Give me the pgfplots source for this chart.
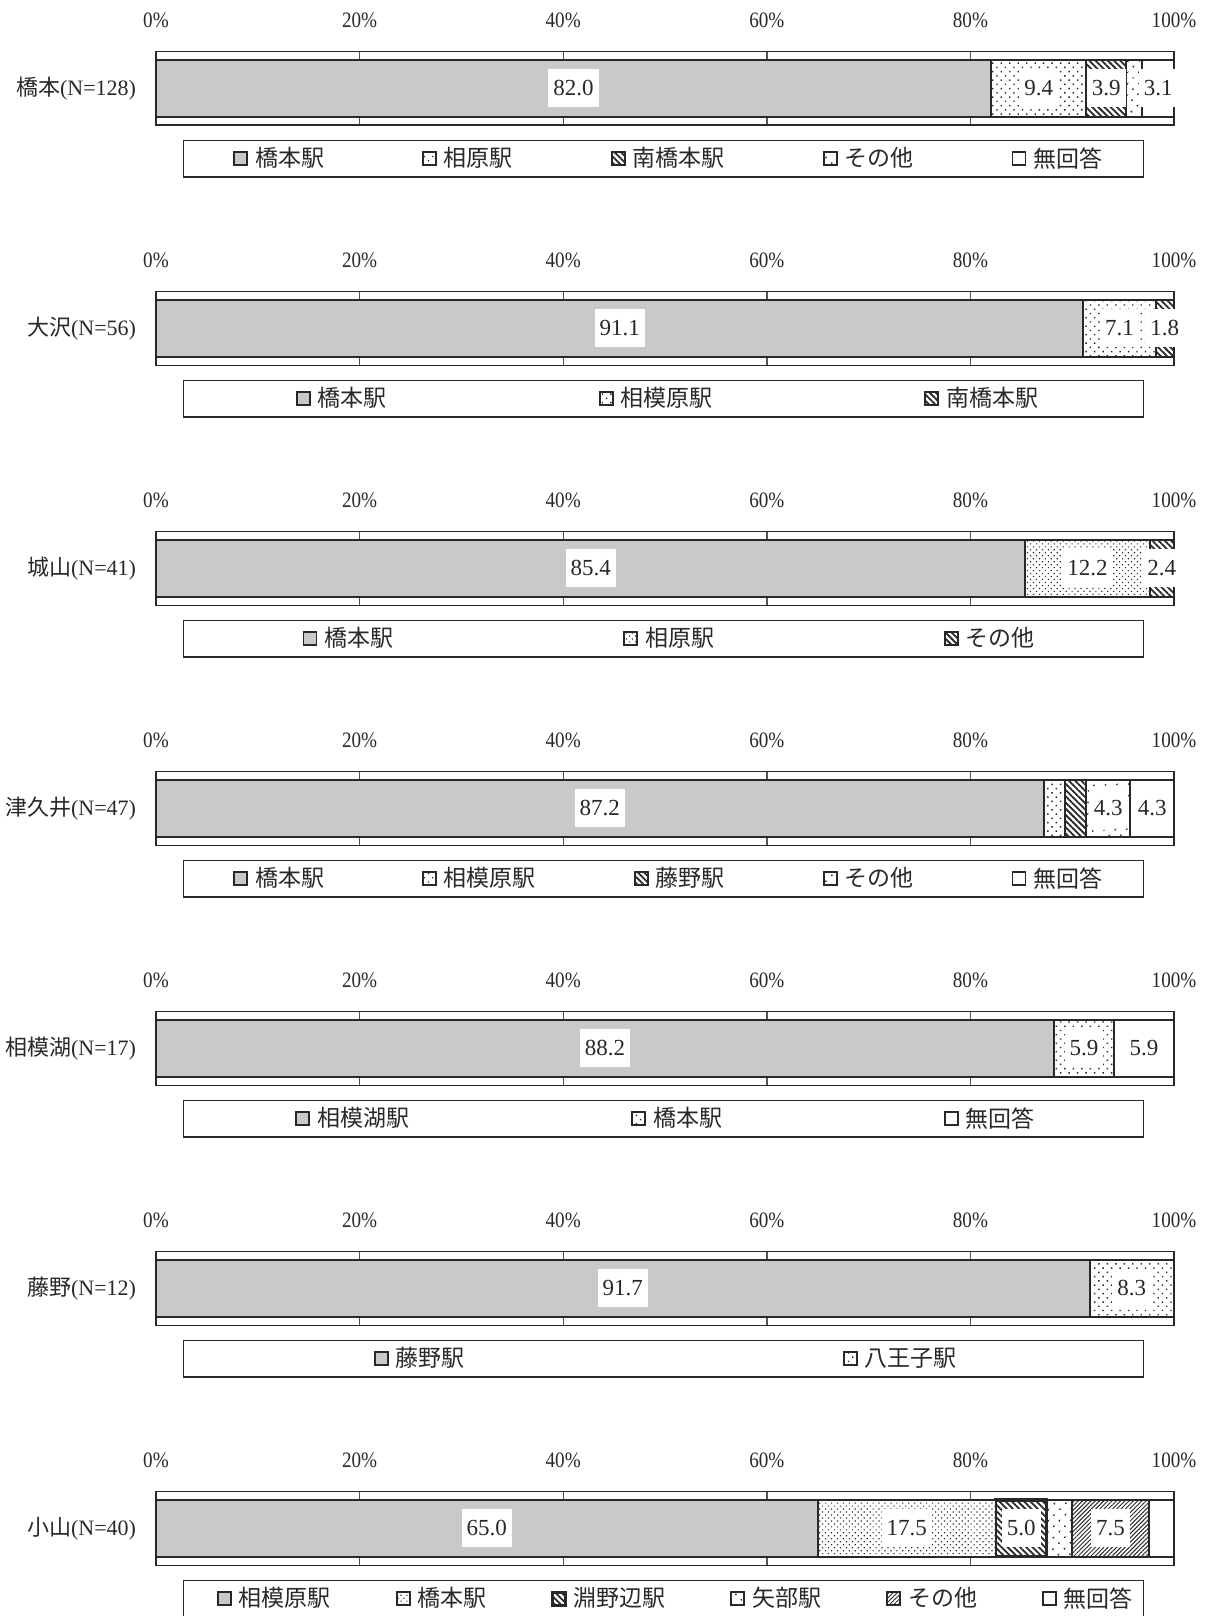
\documentclass[border=0pt]{standalone}
\usepackage{pgfplots}
\pgfplotsset{compat=1.18}
\usetikzlibrary{patterns.meta}
\usepackage{fontspec}
\setmainfont{Liberation Serif}
\newfontfamily\cjk{Noto Sans CJK JP}
\newfontfamily\tickfam[FakeStretch=0.87]{Liberation Serif}
\newcommand\tickfont{\tickfam\fontsize{11}{13}\selectfont}
\newcommand\catfont{\fontsize{11}{13}\selectfont}
\newcommand\valfont{\fontsize{11.5}{13}\selectfont}
\newcommand\legfont{\cjk\fontsize{11.5}{13}\selectfont}
\definecolor{barGray}{RGB}{200,201,203}
\definecolor{ink}{RGB}{40,40,40}

\tikzset{
  sGray/.style={fill=barGray, draw=ink, line width=1pt},
  sWhite/.style={fill=white, draw=ink, line width=1pt},
  sDots/.style={draw=ink, line width=1pt, preaction={fill=white}, pattern={Dots[distance=3pt, radius=0.5pt, angle=45]}, pattern color=ink},
  sDotsD/.style={draw=ink, line width=1pt, preaction={fill=white}, pattern={Dots[distance=2.1pt, radius=0.42pt, angle=45]}, pattern color=ink},
  sDotsS/.style={draw=ink, line width=1pt, preaction={fill=white}, pattern={Dots[distance=4pt, radius=0.55pt, angle=45]}, pattern color=ink},
  sNW/.style={draw=ink, line width=1pt, preaction={fill=white}, pattern={Lines[angle=-45, distance=2.2pt, line width=0.9pt]}, pattern color=ink},
  sNWb/.style={draw=ink, line width=1.6pt, preaction={fill=white}, pattern={Lines[angle=-45, distance=2.2pt, line width=0.9pt]}, pattern color=ink},
  sNE/.style={draw=ink, line width=1pt, preaction={fill=white}, pattern={Lines[angle=45, distance=1.5pt, line width=0.5pt]}, pattern color=ink},
}

\pgfplotsset{
  geom/.style={at={#1}, anchor=north west, width=509pt, height=36.9pt, scale only axis,
    xmin=0, xmax=100, ymin=-1, ymax=1},
  panelA/.style={
    xbar stacked, bar width=28.35pt,
    xtick={0,20,40,60,80,100}, xticklabels={0\%,20\%,40\%,60\%,80\%,100\%},
    xticklabel pos=upper,
    xticklabel style={font=\tickfont, text=ink, anchor=center, yshift=15.75pt},
    ytick={0},
    yticklabel style={font=\catfont, text=ink, anchor=east, inner sep=0pt, xshift=-9.8pt},
    major tick length=0pt,
    xmajorgrids, grid style={ink!80, line width=0.7pt},
    axis line style={ink, line width=0.8pt},
    legend cell align=left,
    legend image code/.code={\draw[##1, line width=0.9pt] (0pt,-3.25pt) rectangle (6.5pt,3.25pt);},
    legend style={draw=none, fill=none, inner sep=0pt, outer sep=0pt, column sep=3.5pt,
      font=\legfont, text=ink, anchor=west, nodes={inner sep=0pt}},
  },
  panelB/.style={hide axis, clip=false},
  vals/.style={only marks, mark=*, mark options={draw=none, fill=none},
    nodes near coords, point meta=explicit symbolic,
    every node near coord/.append style={fill=white, text=ink, font=\valfont,
      inner xsep=2.5pt, inner ysep=0pt, minimum height=19pt, anchor=center}},
}

\begin{document}
\begin{tikzpicture}
\path[use as bounding box] (0,0) rectangle (604pt,-808pt);

% ---------- Panel 1: 橋本 ----------
\begin{axis}[geom={(78pt,-25.75pt)}, panelA,
  yticklabels={{\cjk 橋本}(N=128)},
  legend columns=5,
  legend style={at={(0.0760,-0.4533)}, /tikz/every even column/.append style={column sep=49pt}}]
\addplot[sGray]  coordinates {(82.0,0)}; \addlegendentry{橋本駅}
\addplot[sDots]  coordinates {(9.4,0)};  \addlegendentry{相原駅}
\addplot[sNW]    coordinates {(3.9,0)};  \addlegendentry{南橋本駅}
\addplot[sDotsS] coordinates {(1.6,0)};  \addlegendentry{その他}
\addplot[sWhite] coordinates {(3.1,0)};  \addlegendentry{無回答}
\end{axis}
\begin{axis}[geom={(78pt,-25.75pt)}, panelB]
\addplot[vals] coordinates {(41,0)[82.0] (86.7,0)[9.4] (93.35,0)[3.9] (98.45,0)[3.1]};
\end{axis}

% ---------- Panel 2: 大沢 ----------
\begin{axis}[geom={(78pt,-145.75pt)}, panelA,
  yticklabels={{\cjk 大沢}(N=56)},
  legend columns=3,
  legend style={at={(0.1375,-0.4533)}, /tikz/every even column/.append style={column sep=106pt}}]
\addplot[sGray] coordinates {(91.1,0)}; \addlegendentry{橋本駅}
\addplot[sDots] coordinates {(7.1,0)};  \addlegendentry{相模原駅}
\addplot[sNW]   coordinates {(1.8,0)};  \addlegendentry{南橋本駅}
\end{axis}
\begin{axis}[geom={(78pt,-145.75pt)}, panelB]
\addplot[vals] coordinates {(45.55,0)[91.1] (94.65,0)[7.1] (99.1,0)[1.8]};
\end{axis}

% ---------- Panel 3: 城山 ----------
\begin{axis}[geom={(78pt,-265.75pt)}, panelA,
  yticklabels={{\cjk 城山}(N=41)},
  legend columns=3,
  legend style={at={(0.1440,-0.4533)}, /tikz/every even column/.append style={column sep=115pt}}]
\addplot[sGray]  coordinates {(85.4,0)}; \addlegendentry{橋本駅}
\addplot[sDotsD] coordinates {(12.2,0)}; \addlegendentry{相原駅}
\addplot[sNW]    coordinates {(2.4,0)};  \addlegendentry{その他}
\end{axis}
\begin{axis}[geom={(78pt,-265.75pt)}, panelB]
\addplot[vals] coordinates {(42.7,0)[85.4] (91.5,0)[12.2] (98.8,0)[2.4]};
\end{axis}

% ---------- Panel 4: 津久井 ----------
\begin{axis}[geom={(78pt,-385.75pt)}, panelA,
  yticklabels={{\cjk 津久井}(N=47)},
  legend columns=5,
  legend style={at={(0.0760,-0.4533)}, /tikz/every even column/.append style={column sep=49pt}}]
\addplot[sGray]  coordinates {(87.2,0)}; \addlegendentry{橋本駅}
\addplot[sDots]  coordinates {(2.1,0)};  \addlegendentry{相模原駅}
\addplot[sNW]    coordinates {(2.1,0)};  \addlegendentry{藤野駅}
\addplot[sDotsS] coordinates {(4.3,0)};  \addlegendentry{その他}
\addplot[sWhite] coordinates {(4.3,0)};  \addlegendentry{無回答}
\end{axis}
\begin{axis}[geom={(78pt,-385.75pt)}, panelB]
\addplot[vals] coordinates {(43.6,0)[87.2] (93.55,0)[4.3] (97.85,0)[4.3]};
\end{axis}

% ---------- Panel 5: 相模湖 ----------
\begin{axis}[geom={(78pt,-505.75pt)}, panelA,
  yticklabels={{\cjk 相模湖}(N=17)},
  legend columns=3,
  legend style={at={(0.1370,-0.4533)}, /tikz/every even column/.append style={column sep=111pt}}]
\addplot[sGray]  coordinates {(88.2,0)}; \addlegendentry{相模湖駅}
\addplot[sDots]  coordinates {(5.9,0)};  \addlegendentry{橋本駅}
\addplot[sWhite] coordinates {(5.9,0)};  \addlegendentry{無回答}
\end{axis}
\begin{axis}[geom={(78pt,-505.75pt)}, panelB]
\addplot[vals] coordinates {(44.1,0)[88.2] (91.15,0)[5.9] (97.05,0)[5.9]};
\end{axis}

% ---------- Panel 6: 藤野 ----------
\begin{axis}[geom={(78pt,-625.75pt)}, panelA,
  yticklabels={{\cjk 藤野}(N=12)},
  legend columns=2,
  legend style={at={(0.2140,-0.4533)}, /tikz/every even column/.append style={column sep=189pt}}]
\addplot[sGray] coordinates {(91.7,0)}; \addlegendentry{藤野駅}
\addplot[sDots] coordinates {(8.3,0)};  \addlegendentry{八王子駅}
\end{axis}
\begin{axis}[geom={(78pt,-625.75pt)}, panelB]
\addplot[vals] coordinates {(45.85,0)[91.7] (95.85,0)[8.3]};
\end{axis}

% ---------- Panel 7: 小山 ----------
\begin{axis}[geom={(78pt,-745.75pt)}, panelA,
  yticklabels={{\cjk 小山}(N=40)},
  legend columns=6,
  legend style={at={(0.0600,-0.4533)}, /tikz/every even column/.append style={column sep=32.5pt}}]
\addplot[sGray]  coordinates {(65.0,0)}; \addlegendentry{相模原駅}
\addplot[sDotsD] coordinates {(17.5,0)}; \addlegendentry{橋本駅}
\addplot[sNWb]   coordinates {(5.0,0)};  \addlegendentry{淵野辺駅}
\addplot[sDotsS] coordinates {(2.5,0)};  \addlegendentry{矢部駅}
\addplot[sNE]    coordinates {(7.5,0)};  \addlegendentry{その他}
\addplot[sWhite] coordinates {(2.5,0)};  \addlegendentry{無回答}
\end{axis}
\begin{axis}[geom={(78pt,-745.75pt)}, panelB]
\addplot[vals] coordinates {(32.5,0)[65.0] (73.75,0)[17.5] (85,0)[5.0] (93.75,0)[7.5]};
\end{axis}

% ---------- legend frames ----------
\foreach \t in {70.25,190.25,310.25,430.25,550.25,670.25,790.25}{
  \draw[ink, line width=0.7pt] (91.65pt,-\t pt) rectangle (571.65pt,-\t pt-18.25pt);
}
\end{tikzpicture}
\end{document}
